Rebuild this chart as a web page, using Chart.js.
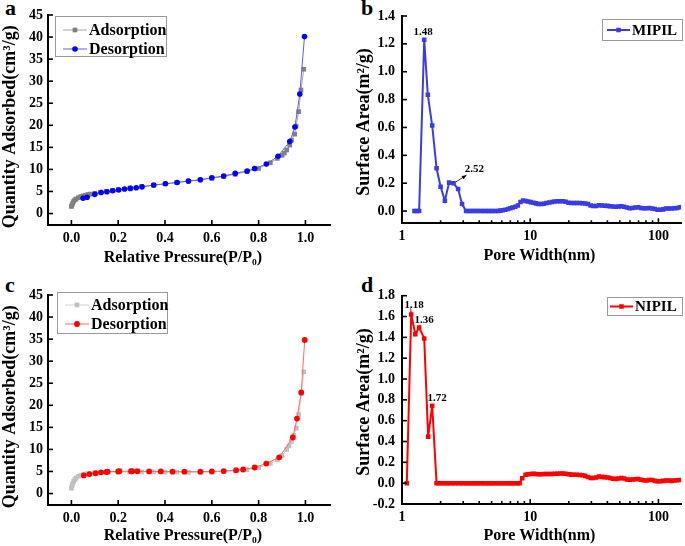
<!DOCTYPE html>
<html>
<head>
<meta charset="utf-8">
<script src="https://cdn.jsdelivr.net/npm/chart.js@4.4.0/dist/chart.umd.min.js"></script>
<style>
  body { margin: 0; background: #fff; width: 685px; height: 546px; position: relative; overflow: hidden;
         font-family: "Liberation Serif", "Times New Roman", serif; }
  canvas { position: absolute; }
  .tag { position: absolute; font-weight: bold; font-size: 22px; line-height: 22px; }
</style>
</head>
<body>
<div class="tag" style="left:5px;top:-3px">a</div>
<div class="tag" style="left:361px;top:-3px">b</div>
<div class="tag" style="left:5px;top:274px">c</div>
<div class="tag" style="left:361px;top:274px">d</div>
<canvas id="isoA" width="342" height="270" style="left:0;top:0"></canvas>
<canvas id="poreB" width="343" height="270" style="left:342px;top:0"></canvas>
<canvas id="isoC" width="342" height="266" style="left:0;top:280px"></canvas>
<canvas id="poreD" width="343" height="266" style="left:342px;top:280px"></canvas>
<script>
// ---- a: MIPIL isotherm ----
const mipilAdsP = [0, 0.003, 0.006, 0.01, 0.015, 0.02, 0.03, 0.04, 0.05, 0.06, 0.07, 0.08, 0.10, 0.125, 0.15, 0.175, 0.20,
  0.25, 0.30, 0.35, 0.40, 0.45, 0.50, 0.55, 0.60, 0.65, 0.70, 0.75, 0.80, 0.85, 0.88, 0.90, 0.91, 0.92, 0.933, 0.94,
  0.954, 0.96, 0.971, 0.981, 0.993];
const mipilAdsQ = [1.6, 2.0, 2.4, 2.8, 3.1, 3.3, 3.6, 3.85, 4.0, 4.15, 4.3, 4.4, 4.6, 4.85, 5.05, 5.25, 5.45,
  5.8, 6.1, 6.4, 6.75, 7.0, 7.35, 7.65, 8.0, 8.4, 8.9, 9.5, 10.2, 11.5, 12.5, 13.2, 13.7, 14.4, 15.5, 16.6,
  18.0, 19.8, 23.1, 28.0, 32.7];
const mipilDesP = [0.05, 0.067, 0.10, 0.127, 0.152, 0.177, 0.202, 0.227, 0.252, 0.277, 0.302, 0.352, 0.402, 0.452,
  0.50, 0.551, 0.60, 0.651, 0.70, 0.751, 0.783, 0.833, 0.883, 0.933, 0.955, 0.976, 0.996];
const mipilDesQ = [3.45, 3.7, 4.35, 4.75, 4.95, 5.15, 5.35, 5.55, 5.7, 5.85, 6.05, 6.45, 6.75, 7.05,
  7.35, 7.65, 8.1, 8.5, 9.1, 9.65, 10.2, 11.2, 13.0, 16.3, 19.6, 27.1, 40.1];

// ---- c: NIPIL isotherm ----
const nipilAdsP = [0, 0.003, 0.006, 0.01, 0.015, 0.02, 0.03, 0.04, 0.05, 0.06, 0.07, 0.08, 0.10, 0.12, 0.15, 0.20,
  0.25, 0.30, 0.35, 0.40, 0.45, 0.50, 0.55, 0.60, 0.65, 0.70, 0.75, 0.80, 0.85, 0.88, 0.90, 0.92, 0.93, 0.94, 0.95,
  0.961, 0.971, 0.984, 0.993];
const nipilAdsQ = [1.2, 1.8, 2.3, 2.8, 3.2, 3.5, 3.9, 4.1, 4.3, 4.4, 4.5, 4.55, 4.65, 4.7, 4.8, 4.85,
  4.9, 4.9, 4.9, 4.85, 4.85, 4.8, 4.8, 4.85, 4.95, 5.1, 5.4, 5.9, 6.8, 7.6, 8.6, 10.0, 10.8, 11.8, 13.2,
  14.8, 17.9, 22.7, 27.6];
const nipilDesP = [0.053, 0.077, 0.103, 0.127, 0.15, 0.155, 0.20, 0.205, 0.255, 0.26, 0.282, 0.332, 0.382, 0.432,
  0.483, 0.551, 0.60, 0.651, 0.704, 0.734, 0.783, 0.833, 0.888, 0.946, 0.964, 0.982, 0.997];
const nipilDesQ = [4.1, 4.4, 4.6, 4.8, 4.9, 4.95, 5.0, 5.05, 5.05, 5.05, 5.05, 5.0, 5.0, 4.95,
  4.95, 4.95, 5.0, 5.1, 5.3, 5.45, 5.9, 6.8, 8.2, 12.7, 17.0, 22.9, 34.8];

// ---- b: MIPIL pore size distribution ----
const mipilPoreW = [1.25, 1.30, 1.36, 1.49, 1.59, 1.72, 1.86, 2.0, 2.16, 2.33, 2.52, 2.74, 2.94, 3.16,
  3.3, 3.45, 3.6, 3.76, 3.93, 4.1, 4.3, 4.5, 4.7, 4.9, 5.1, 5.35, 5.6,
  5.85, 6.1, 6.4, 6.7, 7.0, 7.3, 7.65, 8.0, 8.4, 8.8,
  9.2, 9.6, 10.1, 10.6, 11.1, 11.6, 12.2, 12.8, 13.4, 14.1,
  14.8, 15.5, 16.3, 17.1, 18.0, 18.9, 19.9, 20.9, 22.0, 23.1,
  24.3, 25.5, 26.8, 28.2, 29.6, 31.1, 32.7, 34.4, 36.2, 38.0,
  40.0, 42.0, 44.2, 46.5, 48.9, 51.4, 54.0, 56.8, 59.7, 62.8,
  66.0, 69.4, 73.0, 76.7, 80.7, 84.8, 89.2, 93.8, 98.6, 103.7,
  109.0, 114.6, 120.5, 126.7, 133.2, 140.0, 147.2];
const mipilArea = [0, 0, 0, 1.23, 0.834, 0.614, 0.307, 0.175, 0.074, 0.204, 0.2, 0.158, 0.05, 0,
  0, 0, 0, 0, 0, 0, 0, 0, 0, 0, 0, 0, 0,
  0.003, 0.006, 0.01, 0.015, 0.02, 0.025, 0.03, 0.04, 0.065, 0.075,
  0.072, 0.068, 0.064, 0.06, 0.055, 0.05, 0.05, 0.053, 0.057, 0.062,
  0.065, 0.068, 0.07, 0.071, 0.07, 0.066, 0.06, 0.058, 0.058, 0.057,
  0.057, 0.056, 0.054, 0.05, 0.04, 0.036, 0.036, 0.042, 0.04, 0.038,
  0.037, 0.035, 0.032, 0.03, 0.032, 0.034, 0.03, 0.025, 0.02, 0.022,
  0.025, 0.028, 0.022, 0.02, 0.02, 0.022, 0.018, 0.015, 0.01, 0.01,
  0.012, 0.018, 0.018, 0.018, 0.02, 0.022, 0.028];

// ---- d: NIPIL pore size distribution ----
const nipilPoreW = [1.09, 1.18, 1.27, 1.36, 1.49, 1.60, 1.72,
  1.86, 1.95, 2.05, 2.15, 2.26, 2.37, 2.49, 2.61, 2.74, 2.88, 3.02, 3.16,
  3.3, 3.45, 3.6, 3.76, 3.93, 4.1, 4.3, 4.5, 4.7, 4.9, 5.1, 5.35, 5.6,
  5.85, 6.1, 6.4, 6.7, 7.0, 7.3, 7.65, 8.0, 8.26,
  8.67, 9.2, 9.6, 10.1, 10.6, 11.1, 11.6, 12.2, 12.8, 13.4,
  14.1, 14.8, 15.5, 16.3, 17.1, 18.0, 18.9, 19.9, 20.9, 22.0,
  23.1, 24.3, 25.5, 26.8, 28.2, 29.6, 31.1, 32.7, 34.4, 36.2,
  38.0, 40.0, 42.0, 44.2, 46.5, 48.9, 51.4, 54.0, 56.8, 59.7,
  62.8, 66.0, 69.4, 73.0, 76.7, 80.7, 84.8, 89.2, 93.8, 98.6,
  103.7, 109.0, 114.6, 120.5, 126.7, 133.2, 140.0, 147.2];
const nipilArea = [0, 1.62, 1.43, 1.495, 1.39, 0.447, 0.744,
  0, 0, 0, 0, 0, 0, 0, 0, 0, 0, 0, 0,
  0, 0, 0, 0, 0, 0, 0, 0, 0, 0, 0, 0, 0,
  0, 0, 0, 0, 0, 0, 0, 0, 0,
  0.048, 0.08, 0.085, 0.088, 0.09, 0.088, 0.086, 0.086, 0.087, 0.088,
  0.088, 0.089, 0.09, 0.091, 0.092, 0.092, 0.09, 0.085, 0.082, 0.08,
  0.08, 0.078, 0.076, 0.07, 0.06, 0.05, 0.05, 0.055, 0.065, 0.06,
  0.058, 0.055, 0.05, 0.042, 0.04, 0.045, 0.05, 0.045, 0.036, 0.032,
  0.035, 0.038, 0.04, 0.032, 0.028, 0.026, 0.03, 0.03, 0.022, 0.018,
  0.018, 0.022, 0.025, 0.025, 0.022, 0.025, 0.028, 0.03];

// ---- ticks ----
const pressureTicks = [0, 0.2, 0.4, 0.6, 0.8, 1.0];
const qtyTicks = [0, 5, 10, 15, 20, 25, 30, 35, 40, 45];
const poreTicks = [1, 2, 3, 4, 5, 6, 7, 8, 9, 10, 20, 30, 40, 50, 60, 70, 80, 90, 100];
const areaTicksB = [0, 0.2, 0.4, 0.6, 0.8, 1.0, 1.2, 1.4];
const areaTicksD = [-0.2, 0, 0.2, 0.4, 0.6, 0.8, 1.0, 1.2, 1.4, 1.6, 1.8];

Chart.defaults.font.family = '"Liberation Serif", "Times New Roman", serif';
const pts = (xs, ys) => xs.map((x, i) => ({ x: x, y: ys[i] }));

function drawMarker(ctx, style, x, y, r, color) {
  ctx.fillStyle = color;
  ctx.beginPath();
  if (style === 'rect') {
    const s = r * Math.SQRT2;
    ctx.rect(x - s / 2, y - s / 2, s, s);
  } else {
    ctx.arc(x, y, r, 0, Math.PI * 2);
  }
  ctx.fill();
}

// inward ticks, legend box, in-plot labels
const deco = {
  id: 'deco',
  afterDraw(chart, args, opts) {
    const ctx = chart.ctx;
    const area = chart.chartArea;
    ctx.save();
    ctx.strokeStyle = '#000';
    ctx.lineWidth = 1.6;
    Object.values(chart.scales).forEach(scale => {
      scale.ticks.forEach(t => {
        let major = true;
        if (scale.type === 'logarithmic') {
          const l = Math.log10(t.value);
          major = Math.abs(l - Math.round(l)) < 1e-9;
        }
        const len = major ? 5 : 3;
        const p = scale.getPixelForValue(t.value);
        ctx.beginPath();
        if (scale.isHorizontal()) {
          ctx.moveTo(p, area.bottom);
          ctx.lineTo(p, area.bottom - len);
        } else {
          ctx.moveTo(area.left, p);
          ctx.lineTo(area.left + len, p);
        }
        ctx.stroke();
      });
    });

    const L = opts.legend;
    if (L) {
      ctx.fillStyle = '#fff';
      ctx.fillRect(L.x, L.y, L.w, L.h);
      ctx.strokeStyle = '#9a9a9a';
      ctx.lineWidth = 1;
      ctx.strokeRect(L.x + 0.5, L.y + 0.5, L.w, L.h);
      L.rows.forEach((row, i) => {
        const ds = chart.data.datasets[row.ds];
        const cy = L.y + row.dy;
        ctx.strokeStyle = ds.borderColor;
        ctx.lineWidth = ds.borderWidth;
        ctx.beginPath();
        ctx.moveTo(L.x + L.x0, cy);
        ctx.lineTo(L.x + L.x1, cy);
        ctx.stroke();
        drawMarker(ctx, ds.pointStyle, L.x + (L.x0 + L.x1) / 2, cy, ds.pointRadius, ds.backgroundColor);
        ctx.fillStyle = '#000';
        ctx.font = 'bold ' + L.size + 'px "Liberation Serif"';
        ctx.textAlign = 'left';
        ctx.textBaseline = 'middle';
        ctx.fillText(ds.label, L.x + L.tx, cy + 1);
      });
    }

    (opts.labels || []).forEach(lb => {
      ctx.fillStyle = '#000';
      ctx.font = 'bold ' + lb.size + 'px "Liberation Serif"';
      ctx.textBaseline = 'middle';
      if (lb.at) {
        const px = chart.scales.x.getPixelForValue(lb.at[0]);
        const py = chart.scales.y.getPixelForValue(lb.at[1]);
        ctx.textAlign = 'center';
        ctx.fillText(lb.text, px + lb.dx, py + lb.dy);
        if (lb.arrow) {
          const [ax0, ay0, ax1, ay1] = lb.arrow;
          const x0 = px + ax0, y0 = py + ay0, x1 = px + ax1, y1 = py + ay1;
          ctx.strokeStyle = '#000';
          ctx.lineWidth = 0.8;
          ctx.beginPath();
          ctx.moveTo(x0, y0);
          ctx.lineTo(x1, y1);
          ctx.stroke();
          const ang = Math.atan2(y1 - y0, x1 - x0);
          ctx.beginPath();
          ctx.moveTo(x1, y1);
          ctx.lineTo(x1 - 5 * Math.cos(ang - 0.4), y1 - 5 * Math.sin(ang - 0.4));
          ctx.lineTo(x1 - 5 * Math.cos(ang + 0.4), y1 - 5 * Math.sin(ang + 0.4));
          ctx.closePath();
          ctx.fillStyle = '#000';
          ctx.fill();
        }
      } else {
        ctx.textAlign = 'left';
        ctx.fillText(lb.text, lb.x, lb.y);
      }
    });
    ctx.restore();
  }
};

function buildChart(id, c) {
  return new Chart(document.getElementById(id), {
    type: 'scatter',
    data: { datasets: c.datasets },
    options: {
      responsive: false,
      animation: false,
      layout: { padding: c.padding },
      plugins: { legend: { display: false }, tooltip: { enabled: false }, deco: c.deco },
      scales: {
        x: {
          type: c.xType, min: c.xMin, max: c.xMax,
          afterBuildTicks: s => { s.ticks = c.xTicks.map(v => ({ value: v })); },
          afterFit: s => { s.height = c.xHeight; },
          grid: { display: false, drawTicks: false },
          border: { display: true, color: '#000', width: 2 },
          ticks: { autoSkip: false, maxRotation: 0, padding: 5, color: '#000',
                   font: { size: 14, weight: 'bold' }, callback: c.xLabel },
          title: { display: true, text: c.xTitle, color: '#000', font: { size: 16, weight: 'bold' },
                   padding: { top: 0, bottom: c.xTitlePad } }
        },
        y: {
          type: 'linear', min: c.yMin, max: c.yMax,
          afterBuildTicks: s => { s.ticks = c.yTicks.map(v => ({ value: v })); },
          afterFit: s => { s.width = c.yWidth; },
          grid: { display: false, drawTicks: false },
          border: { display: true, color: '#000', width: 2 },
          ticks: { autoSkip: false, padding: c.yLabelPad, color: '#000',
                   font: { size: 14, weight: 'bold' }, callback: c.yLabel },
          title: { display: true, text: c.yTitle, color: '#000', font: { size: 18, weight: 'bold' },
                   padding: { top: c.yTitlePad, bottom: 0 } }
        }
      }
    },
    plugins: [deco]
  });
}

function isoSet(label, xs, ys, color, lineColor, style, r, order) {
  return {
    label: label, data: pts(xs, ys), showLine: true, tension: 0,
    borderColor: lineColor, borderWidth: 1, backgroundColor: color,
    pointStyle: style, pointRadius: r, pointBorderWidth: 0, pointBackgroundColor: color, order: order
  };
}
function poreSet(label, xs, ys, color) {
  return {
    label: label, data: pts(xs, ys), showLine: true, tension: 0,
    borderColor: color, borderWidth: 2, backgroundColor: color,
    pointStyle: 'rect', pointRadius: 3.2, pointBorderWidth: 0, pointBackgroundColor: color
  };
}

// trailing no-break spaces nudge the centred axis titles like in the original figure
const isoCommon = {
  xType: 'linear', xMin: -0.1, xMax: 1.105, xTicks: pressureTicks, xLabel: v => v.toFixed(1),
  xTitle: 'Relative Pressure(P/P₀)\u00a0\u00a0\u00a0',
  yMin: -2.6, yMax: 45, yTicks: qtyTicks, yLabel: v => String(v), yWidth: 48, yLabelPad: 5,
  yTitle: 'Quantity Adsorbed(cm³/g)\u00a0\u00a0\u00a0', yTitlePad: 0
};
const poreCommon = {
  xType: 'logarithmic', xMin: 1, xMax: 150, xTicks: poreTicks,
  xLabel: v => (v === 1 || v === 10 || v === 100) ? String(v) : '',
  xTitle: 'Pore Width(nm)\u00a0', yWidth: 60, yLabelPad: 7, yLabel: v => v.toFixed(1),
  yTitle: 'Surface Area(m²/g)\u00a0', yTitlePad: 12
};

buildChart('isoA', Object.assign({}, isoCommon, {
  padding: { top: 15, right: 12, left: 0, bottom: 0 }, xHeight: 45, xTitlePad: 3,
  datasets: [
    isoSet('Adsorption', mipilAdsP, mipilAdsQ, '#808080', '#a6a6a6', 'rect', 3.3, 1),
    isoSet('Desorption', mipilDesP, mipilDesQ, '#0000ff', '#5c5cff', 'circle', 2.8, 0)
  ],
  deco: {
    legend: { x: 55, y: 16, w: 111, h: 40, x0: 8, x1: 32, tx: 34, size: 16,
              rows: [{ ds: 0, dy: 14 }, { ds: 1, dy: 33 }] },
    labels: [{ text: 'MIPIL', x: 60, y: 72, size: 16 }]
  }
}));

buildChart('isoC', Object.assign({}, isoCommon, {
  padding: { top: 15, right: 12, left: 0, bottom: 0 }, xHeight: 41, xTitlePad: 1,
  datasets: [
    isoSet('Adsorption', nipilAdsP, nipilAdsQ, '#c0c0c0', '#d2d2d2', 'rect', 3.3, 1),
    isoSet('Desorption', nipilDesP, nipilDesQ, '#ff0000', '#ff6a6a', 'circle', 2.9, 0)
  ],
  deco: {
    legend: { x: 57, y: 12, w: 110, h: 41, x0: 8, x1: 32, tx: 34, size: 16,
              rows: [{ ds: 0, dy: 13 }, { ds: 1, dy: 32 }] },
    labels: [{ text: 'NIPIL', x: 60, y: 66, size: 16 }]
  }
}));

buildChart('poreB', Object.assign({}, poreCommon, {
  padding: { top: 16, right: 2, left: 0, bottom: 0 }, xHeight: 46.7, xTitlePad: 5,
  yMin: -0.088, yMax: 1.4, yTicks: areaTicksB,
  datasets: [poreSet('MIPIL', mipilPoreW, mipilArea, '#3c3ce6')],
  deco: {
    legend: { x: 260, y: 19, w: 80, h: 21, x0: 5, x1: 28, tx: 30, size: 15, rows: [{ ds: 0, dy: 11 }] },
    labels: [
      { text: '1.48', at: [1.49, 1.23], dx: -1, dy: -8, size: 11 },
      { text: '2.52', at: [2.52, 0.2], dx: 21, dy: -14, size: 11, arrow: [2, -1, 13, -8] }
    ]
  }
}));

buildChart('poreD', Object.assign({}, poreCommon, {
  padding: { top: 15.7, right: 2, left: 0, bottom: 0 }, xHeight: 42, xTitlePad: 1,
  yMin: -0.2, yMax: 1.8, yTicks: areaTicksD,
  datasets: [poreSet('NIPIL', nipilPoreW, nipilArea, '#ff0000')],
  deco: {
    legend: { x: 265, y: 17, w: 75, h: 18, x0: 3, x1: 26, tx: 28, size: 15, rows: [{ ds: 0, dy: 9.5 }] },
    labels: [
      { text: '1.18', at: [1.18, 1.62], dx: 3, dy: -9, size: 11 },
      { text: '1.36', at: [1.36, 1.495], dx: 5, dy: -7, size: 11 },
      { text: '1.72', at: [1.72, 0.744], dx: 5, dy: -8, size: 11 }
    ]
  }
}));
</script>
</body>
</html>
